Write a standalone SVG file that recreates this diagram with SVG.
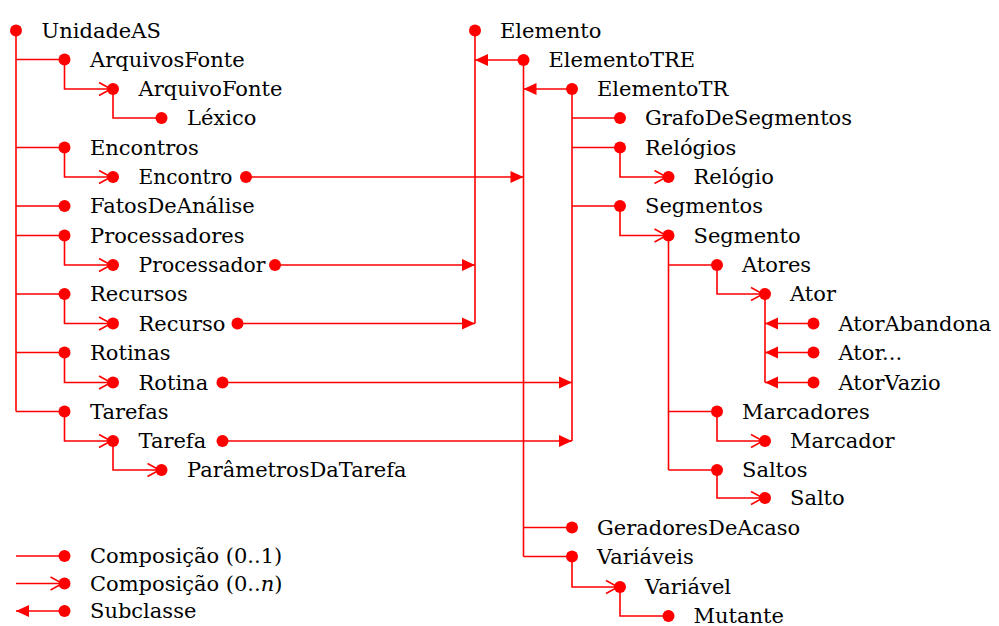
<svg xmlns="http://www.w3.org/2000/svg" width="999" height="626" viewBox="0 0 999 626">
  <style>
    .ln { fill: none; stroke: #ff0000; stroke-width: 1.6; }
    .dot { fill: #ff0000; }
    text { font-family: "DejaVu Serif", serif; font-size: 21px; fill: #000; }
    .many { marker-end: url(#many); }
    .sub { marker-end: url(#sub); }
  </style>
  <defs>
    <!-- open chevron: composition 0..n -->
    <marker id="many" markerUnits="userSpaceOnUse" markerWidth="16" markerHeight="16" refX="14" refY="6.5" orient="auto" overflow="visible">
      <path d="M0,0 L12,6.5 L0,13" fill="none" stroke="#ff0000" stroke-width="1.6"/>
    </marker>
    <!-- filled triangle: subclass -->
    <marker id="sub" markerUnits="userSpaceOnUse" markerWidth="16" markerHeight="16" refX="13" refY="6" orient="auto" overflow="visible">
      <path d="M0,0 L13,6 L0,12 Z" fill="#ff0000"/>
    </marker>
  </defs>

  <rect width="999" height="626" fill="#ffffff"/>

  <g id="connectors">
    <!-- UnidadeAS tree -->
    <path class="ln" d="M16,30.5 V411.5"/>
    <path class="ln" d="M16,59.5 H64.5 M16,147.5 H64.5 M16,206 H64.5 M16,235.5 H64.5 M16,294 H64.5 M16,352.5 H64.5 M16,411.5 H64.5"/>
    <path class="ln many" d="M64.5,59.5 V89 H113"/>
    <path class="ln" d="M113,89 V118 H161.5"/>
    <path class="ln many" d="M64.5,147.5 V177 H113"/>
    <path class="ln many" d="M64.5,235.5 V265 H113"/>
    <path class="ln many" d="M64.5,294 V323.5 H113"/>
    <path class="ln many" d="M64.5,352.5 V382.5 H113"/>
    <path class="ln many" d="M64.5,411.5 V441 H113"/>
    <path class="ln many" d="M113,441 V470 H161.5"/>

    <!-- subclass links into the Elemento hierarchy -->
    <path class="ln sub" d="M246,177 H523.5"/>
    <path class="ln sub" d="M275,265 H475"/>
    <path class="ln sub" d="M237.5,323.5 H475"/>
    <path class="ln sub" d="M222.5,382.5 H572"/>
    <path class="ln sub" d="M222.5,441 H572"/>

    <!-- Elemento hierarchy trunks -->
    <path class="ln" d="M475,30.5 V323.5"/>
    <path class="ln" d="M523.5,60 V556.5"/>
    <path class="ln" d="M572,89 V441"/>
    <path class="ln sub" d="M523.5,60 H475"/>
    <path class="ln sub" d="M572,89 H523.5"/>

    <!-- ElementoTR parts -->
    <path class="ln" d="M572,118 H620 M572,147.5 H620 M572,206 H620"/>
    <path class="ln many" d="M620,147.5 V177 H668.5"/>
    <path class="ln many" d="M620,206 V235.5 H668.5"/>

    <!-- Segmento parts -->
    <path class="ln" d="M668.5,235.5 V470"/>
    <path class="ln" d="M668.5,265 H717 M668.5,411.5 H717 M668.5,470 H717"/>
    <path class="ln many" d="M717,265 V294 H765"/>
    <path class="ln many" d="M717,411.5 V441 H765"/>
    <path class="ln many" d="M717,470 V498 H765"/>

    <!-- Ator subclasses -->
    <path class="ln" d="M765,294 V382.5"/>
    <path class="ln sub" d="M813.5,323.5 H765"/>
    <path class="ln sub" d="M813.5,352.5 H765"/>
    <path class="ln sub" d="M813.5,382.5 H765"/>

    <!-- ElementoTRE parts -->
    <path class="ln" d="M523.5,527.5 H572 M523.5,556.5 H572"/>
    <path class="ln many" d="M572,556.5 V587 H620"/>
    <path class="ln" d="M620,587 V616 H668.5"/>

    <!-- legend -->
    <path class="ln" d="M16,556 H64.5"/>
    <path class="ln many" d="M16,583.5 H64.5"/>
    <path class="ln sub" d="M64.5,611 H16"/>
  </g>

  <!-- left tree -->
  <g id="UnidadeAS"><circle class="dot" cx="16" cy="30.5" r="6"/><text x="41.5" y="37.5">UnidadeAS</text></g>
  <g id="ArquivosFonte"><circle class="dot" cx="64.5" cy="59.5" r="6"/><text x="90" y="66.5">ArquivosFonte</text></g>
  <g id="ArquivoFonte"><circle class="dot" cx="113" cy="89" r="6"/><text x="138.5" y="96">ArquivoFonte</text></g>
  <g id="Lexico"><circle class="dot" cx="161.5" cy="118" r="6"/><text x="187" y="125">Léxico</text></g>
  <g id="Encontros"><circle class="dot" cx="64.5" cy="147.5" r="6"/><text x="90" y="154.5">Encontros</text></g>
  <g id="Encontro"><circle class="dot" cx="113" cy="177" r="6"/><text x="138.5" y="184" textLength="94" lengthAdjust="spacingAndGlyphs">Encontro</text><circle class="dot" cx="246" cy="177" r="6"/></g>
  <g id="FatosDeAnalise"><circle class="dot" cx="64.5" cy="206" r="6"/><text x="90" y="213">FatosDeAnálise</text></g>
  <g id="Processadores"><circle class="dot" cx="64.5" cy="235.5" r="6"/><text x="90" y="242.5">Processadores</text></g>
  <g id="Processador"><circle class="dot" cx="113" cy="265" r="6"/><text x="138.5" y="272" textLength="127" lengthAdjust="spacingAndGlyphs">Processador</text><circle class="dot" cx="275" cy="265" r="6"/></g>
  <g id="Recursos"><circle class="dot" cx="64.5" cy="294" r="6"/><text x="90" y="301">Recursos</text></g>
  <g id="Recurso"><circle class="dot" cx="113" cy="323.5" r="6"/><text x="138.5" y="330.5">Recurso</text><circle class="dot" cx="237.5" cy="323.5" r="6"/></g>
  <g id="Rotinas"><circle class="dot" cx="64.5" cy="352.5" r="6"/><text x="90" y="359.5">Rotinas</text></g>
  <g id="Rotina"><circle class="dot" cx="113" cy="382.5" r="6"/><text x="138.5" y="389.5">Rotina</text><circle class="dot" cx="222.5" cy="382.5" r="6"/></g>
  <g id="Tarefas"><circle class="dot" cx="64.5" cy="411.5" r="6"/><text x="90" y="418.5">Tarefas</text></g>
  <g id="Tarefa"><circle class="dot" cx="113" cy="441" r="6"/><text x="138.5" y="448">Tarefa</text><circle class="dot" cx="222.5" cy="441" r="6"/></g>
  <g id="ParametrosDaTarefa"><circle class="dot" cx="161.5" cy="470" r="6"/><text x="187" y="477">ParâmetrosDaTarefa</text></g>

  <!-- right tree -->
  <g id="Elemento"><circle class="dot" cx="475" cy="30.5" r="6"/><text x="500" y="37.5">Elemento</text></g>
  <g id="ElementoTRE"><circle class="dot" cx="523.5" cy="60" r="6"/><text x="548.5" y="67">ElementoTRE</text></g>
  <g id="ElementoTR"><circle class="dot" cx="572" cy="89" r="6"/><text x="597" y="96">ElementoTR</text></g>
  <g id="GrafoDeSegmentos"><circle class="dot" cx="620" cy="118" r="6"/><text x="645" y="125">GrafoDeSegmentos</text></g>
  <g id="Relogios"><circle class="dot" cx="620" cy="147.5" r="6"/><text x="645" y="154.5">Relógios</text></g>
  <g id="Relogio"><circle class="dot" cx="668.5" cy="177" r="6"/><text x="693.5" y="184">Relógio</text></g>
  <g id="Segmentos"><circle class="dot" cx="620" cy="206" r="6"/><text x="645" y="213">Segmentos</text></g>
  <g id="Segmento"><circle class="dot" cx="668.5" cy="235.5" r="6"/><text x="693.5" y="242.5">Segmento</text></g>
  <g id="Atores"><circle class="dot" cx="717" cy="265" r="6"/><text x="742" y="272">Atores</text></g>
  <g id="Ator"><circle class="dot" cx="765" cy="294" r="6"/><text x="790" y="301">Ator</text></g>
  <g id="AtorAbandona"><circle class="dot" cx="813.5" cy="323.5" r="6"/><text x="838.5" y="330.5">AtorAbandona</text></g>
  <g id="AtorOutros"><circle class="dot" cx="813.5" cy="352.5" r="6"/><text x="838.5" y="359.5">Ator...</text></g>
  <g id="AtorVazio"><circle class="dot" cx="813.5" cy="382.5" r="6"/><text x="838.5" y="389.5">AtorVazio</text></g>
  <g id="Marcadores"><circle class="dot" cx="717" cy="411.5" r="6"/><text x="742" y="418.5">Marcadores</text></g>
  <g id="Marcador"><circle class="dot" cx="765" cy="441" r="6"/><text x="790" y="448">Marcador</text></g>
  <g id="Saltos"><circle class="dot" cx="717" cy="470" r="6"/><text x="742" y="477">Saltos</text></g>
  <g id="Salto"><circle class="dot" cx="765" cy="498" r="6"/><text x="790" y="505">Salto</text></g>
  <g id="GeradoresDeAcaso"><circle class="dot" cx="572" cy="527.5" r="6"/><text x="597" y="534.5">GeradoresDeAcaso</text></g>
  <g id="Variaveis"><circle class="dot" cx="572" cy="556.5" r="6"/><text x="597" y="563.5">Variáveis</text></g>
  <g id="Variavel"><circle class="dot" cx="620" cy="587" r="6"/><text x="645" y="594">Variável</text></g>
  <g id="Mutante"><circle class="dot" cx="668.5" cy="616" r="6"/><text x="693.5" y="622.5">Mutante</text></g>

  <!-- legend -->
  <g id="legend">
    <circle class="dot" cx="64.5" cy="556" r="6"/><text x="90" y="563">Composição (0..1)</text>
    <circle class="dot" cx="64.5" cy="583.5" r="6"/><text x="90" y="590.5">Composição (0..<tspan font-style="italic">n</tspan>)</text>
    <circle class="dot" cx="64.5" cy="611" r="6"/><text x="90" y="618">Subclasse</text>
  </g>
</svg>
